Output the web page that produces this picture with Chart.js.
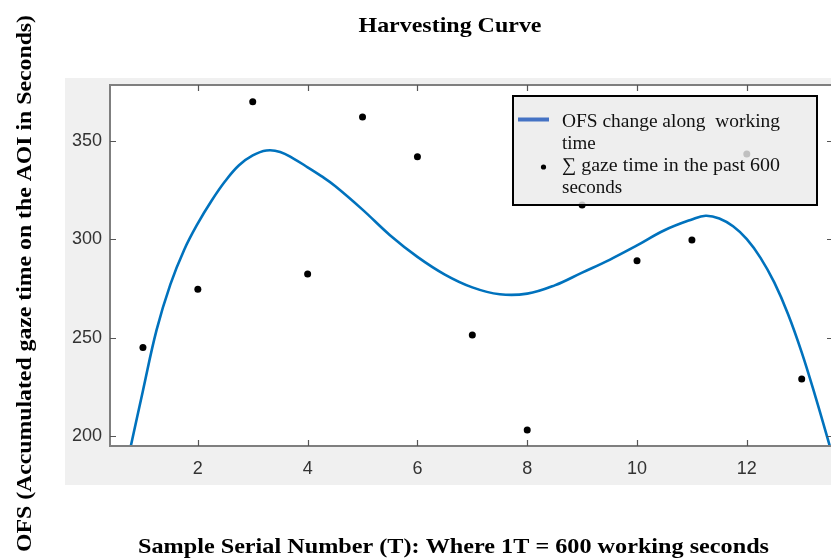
<!DOCTYPE html>
<html>
<head>
<meta charset="utf-8">
<script src="https://cdn.jsdelivr.net/npm/chart.js@4.4.1/dist/chart.umd.min.js"></script>
<style>
html,body{margin:0;padding:0;background:#fff;overflow:hidden;}
#wrap{width:831px;height:559px;overflow:hidden;position:relative;}
canvas{display:block;}
</style>
</head>
<body>
<div id="wrap"><canvas id="c" width="833" height="559" style="width:833px;height:559px"></canvas></div>
<script>
// ---- Data ----
const chartTitle = "Harvesting Curve";
const xAxisTitle = "Sample Serial Number (T): Where 1T = 600 working seconds";
const yAxisTitle = "OFS (Accumulated gaze time on the AOI in Seconds)";
const legendLine = ["OFS change along  working", "time"];
const legendDots = ["\u2211 gaze time in the past 600", "seconds"];

const sampleX = [1, 2, 3, 4, 5, 6, 7, 8, 9, 10, 11, 12, 13];
const sampleY = [245, 274.5, 369.8, 282.3, 362, 341.9, 251.3, 203, 317.3, 289, 299.5, 343.2, 228.9];

const curveX = [0.78, 1.0, 1.25, 1.5, 1.75, 2.0, 2.25, 2.5, 2.75, 3.0, 3.25, 3.5, 3.75, 4.0, 4.25, 4.5, 5.0, 5.5, 6.0, 6.5, 7.0, 7.5, 8.0, 8.5, 9.0, 9.5, 10.0, 10.5, 11.0, 11.25, 11.5, 11.75, 12.0, 12.25, 12.5, 12.75, 13.0, 13.25, 13.5, 13.6];
const curveY = [195, 223, 254, 277, 294.5, 308, 319.5, 329.5, 337.5, 342.5, 345, 344.3, 340.8, 336.5, 332, 327, 315, 302, 291, 282, 275.5, 272, 272.3, 276.5, 283, 289.5, 296.8, 304.5, 310, 311.9, 310.5, 306.5, 300, 290.5, 278, 262, 242.5, 220, 196, 186];

const xTicks = [2, 4, 6, 8, 10, 12];
const yTicks = [200, 250, 300, 350];

// ---- helpers ----
function fitText(ctx, text, x, y, font, width, align) {
  ctx.save();
  ctx.font = font;
  const w = ctx.measureText(text).width;
  const s = width / w;
  ctx.textAlign = 'left';
  ctx.textBaseline = 'alphabetic';
  let x0 = align === 'center' ? x - width / 2 : x;
  ctx.translate(x0, y);
  ctx.scale(s, 1);
  ctx.fillText(text, 0, 0);
  ctx.restore();
}

const frame = {
  id: 'frame',
  beforeDraw(chart) {
    const ctx = chart.ctx, a = chart.chartArea;
    ctx.save();
    ctx.fillStyle = '#ffffff';
    ctx.fillRect(0, 0, chart.width, chart.height);
    ctx.fillStyle = '#f0f0f0';
    ctx.fillRect(65, 78, chart.width - 65, 485 - 78);
    ctx.fillStyle = '#ffffff';
    ctx.fillRect(a.left, a.top, a.right - a.left, a.bottom - a.top);
    ctx.restore();
  },
  afterDraw(chart) {
    const ctx = chart.ctx, a = chart.chartArea;
    const xs = chart.scales.x, ys = chart.scales.y;
    ctx.save();
    // box
    ctx.strokeStyle = '#7f7f7f';
    ctx.lineWidth = 2;
    ctx.beginPath();
    ctx.moveTo(a.right + 2, a.top); ctx.lineTo(a.left, a.top);
    ctx.lineTo(a.left, a.bottom); ctx.lineTo(a.right + 2, a.bottom);
    ctx.stroke();
    // inward ticks
    ctx.lineWidth = 1.2;
    ctx.strokeStyle = '#555';
    ctx.beginPath();
    xTicks.forEach(v => {
      const p = Math.round(xs.getPixelForValue(v)) + 0.5;
      ctx.moveTo(p, a.bottom); ctx.lineTo(p, a.bottom - 6);
      ctx.moveTo(p, a.top); ctx.lineTo(p, a.top + 6);
    });
    yTicks.forEach(v => {
      const p = Math.round(ys.getPixelForValue(v)) + 0.5;
      ctx.moveTo(a.left, p); ctx.lineTo(a.left + 6, p);
      ctx.moveTo(a.right, p); ctx.lineTo(a.right - 6, p);
    });
    ctx.stroke();

    // legend box (semi-transparent, over the plot)
    ctx.fillStyle = 'rgba(234,234,234,0.82)';
    ctx.fillRect(513, 96, 304, 109);
    ctx.strokeStyle = '#000';
    ctx.lineWidth = 2;
    ctx.strokeRect(513, 96, 304, 109);
    ctx.strokeStyle = '#4472c4';
    ctx.lineWidth = 4;
    ctx.beginPath(); ctx.moveTo(518, 119.5); ctx.lineTo(549, 119.5); ctx.stroke();
    ctx.fillStyle = '#000';
    ctx.beginPath(); ctx.arc(543.5, 167, 2.6, 0, Math.PI * 2); ctx.fill();
    ctx.fillStyle = '#111';
    const lf = '19px "Liberation Serif", "Times New Roman", serif';
    fitText(ctx, legendLine[0], 562, 126.5, lf, 218, 'left');
    ctx.font = lf; ctx.textBaseline = 'alphabetic'; ctx.textAlign = 'left';
    ctx.fillText(legendLine[1], 562, 148.5);
    fitText(ctx, legendDots[0], 562, 170.5, lf, 218, 'left');
    ctx.font = lf;
    ctx.fillText(legendDots[1], 562, 193);

    // titles
    ctx.fillStyle = '#000';
    fitText(ctx, chartTitle, 450, 31.5, 'bold 21px "Liberation Serif", "Times New Roman", serif', 183, 'center');
    fitText(ctx, xAxisTitle, 453.5, 553, 'bold 21px "Liberation Serif", "Times New Roman", serif', 631, 'center');
    ctx.save();
    ctx.translate(31, 283.5);
    ctx.rotate(-Math.PI / 2);
    fitText(ctx, yAxisTitle, 0, 0, 'bold 21px "Liberation Serif", "Times New Roman", serif', 537, 'center');
    ctx.restore();
    ctx.restore();
  }
};

new Chart(document.getElementById('c'), {
  type: 'scatter',
  data: {
    datasets: [
      {
        type: 'line',
        label: legendLine.join(' '),
        data: curveX.map((x, i) => ({ x: x, y: curveY[i] })),
        borderColor: '#0072BD',
        borderWidth: 2.6,
        pointRadius: 0,
        fill: false,
        tension: 0.4,
        order: 2
      },
      {
        type: 'scatter',
        label: legendDots.join(' '),
        data: sampleX.map((x, i) => ({ x: x, y: sampleY[i] })),
        backgroundColor: '#000',
        borderColor: '#000',
        pointRadius: 3.5,
        pointBorderWidth: 0,
        order: 1
      }
    ]
  },
  options: {
    responsive: false,
    animation: false,
    devicePixelRatio: 1,
    layout: { autoPadding: false, padding: { top: 85, left: 0, right: 0, bottom: 0 } },
    plugins: { legend: { display: false }, tooltip: { enabled: false }, title: { display: false } },
    scales: {
      x: {
        type: 'linear',
        min: 0.4,
        max: 13.57,
        grid: { display: false, drawTicks: false },
        border: { display: false },
        afterBuildTicks: s => { s.ticks = xTicks.map(v => ({ value: v })); },
        afterFit: s => { s.height = 113; s.paddingLeft = 0; s.paddingRight = 0; },
        ticks: {
          padding: 12,
          maxRotation: 0,
          color: '#333',
          font: { family: '"Liberation Sans", Arial, sans-serif', size: 18 }
        }
      },
      y: {
        type: 'linear',
        min: 194.9,
        max: 378.3,
        grid: { display: false, drawTicks: false },
        border: { display: false },
        afterBuildTicks: s => { s.ticks = yTicks.map(v => ({ value: v })); },
        afterFit: s => { s.width = 110; s.paddingTop = 0; s.paddingBottom = 0; },
        ticks: {
          padding: 8,
          color: '#333',
          font: { family: '"Liberation Sans", Arial, sans-serif', size: 18 }
        }
      }
    }
  },
  plugins: [frame]
});
</script>
</body>
</html>
